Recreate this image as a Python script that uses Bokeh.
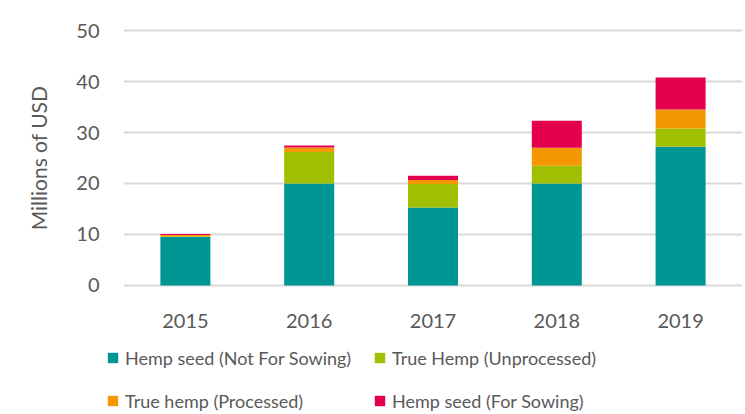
from bokeh.plotting import figure
from bokeh.layouts import column
from bokeh.models import ColumnDataSource, FactorRange, Range1d, FixedTicker, Legend, LegendItem
from bokeh.embed import file_html
from bokeh.resources import INLINE

years = ["2015", "2016", "2017", "2018", "2019"]
series = ["Hemp seed (Not For Sowing)", "True Hemp (Unprocessed)",
          "True hemp (Processed)", "Hemp seed (For Sowing)"]
not_for_sowing = [9.5, 20.0, 15.3, 20.0, 27.2]
true_unprocessed = [0.1, 6.2, 4.6, 3.5, 3.6]
true_processed = [0.3, 0.85, 0.8, 3.5, 3.7]
for_sowing = [0.2, 0.4, 0.8, 5.3, 6.3]
y_ticks = [0, 10, 20, 30, 40, 50]
colors = ["#009694", "#A0BF00", "#F39800", "#E4004F"]

keys = ["s0", "s1", "s2", "s3"]
source = ColumnDataSource(dict(year=years, s0=not_for_sowing, s1=true_unprocessed,
                               s2=true_processed, s3=for_sowing))

FONT = "Lato"
TXT = "#595959"

p = figure(x_range=FactorRange(*years, range_padding=0), y_range=Range1d(-0.4, 50.4),
           width=745, height=345, output_backend="svg", toolbar_location=None,
           min_border_left=123, min_border_right=3, min_border_top=28, min_border_bottom=58)
p.outline_line_color = None
p.background_fill_color = "white"
p.border_fill_color = "white"

renderers = p.vbar_stack(keys, x="year", width=0.404, color=colors, source=source, line_color=None)

p.ygrid.ticker = FixedTicker(ticks=y_ticks)
p.ygrid.grid_line_color = "#D9D9D9"
p.ygrid.grid_line_width = 2
p.xgrid.grid_line_color = None

p.yaxis.ticker = FixedTicker(ticks=y_ticks)
p.yaxis.axis_line_color = None
p.yaxis.major_tick_line_color = None
p.yaxis.minor_tick_line_color = None
p.yaxis.major_label_text_font = FONT
p.yaxis.major_label_text_font_size = "20px"
p.yaxis.major_label_text_color = TXT
p.yaxis.major_label_standoff = 18
p.yaxis.axis_label = "Millions of USD"
p.yaxis.axis_label_text_font = FONT
p.yaxis.axis_label_text_font_size = "21px"
p.yaxis.axis_label_text_font_style = "normal"
p.yaxis.axis_label_text_color = TXT
p.yaxis.axis_label_standoff = 22

p.xaxis.axis_line_color = None
p.xaxis.major_tick_line_color = None
p.xaxis.minor_tick_line_color = None
p.xaxis.major_label_text_font = FONT
p.xaxis.major_label_text_font_size = "20px"
p.xaxis.major_label_text_color = TXT
p.xaxis.major_label_standoff = 20

# legend strip underneath the chart
leg = figure(width=745, height=69, output_backend="svg", toolbar_location=None,
             x_range=Range1d(0, 1), y_range=Range1d(0, 1),
             min_border_left=0, min_border_right=0, min_border_top=0, min_border_bottom=0,
             x_axis_location=None, y_axis_location=None)
leg.outline_line_color = None
leg.xgrid.visible = False
leg.ygrid.visible = False
dummies = [leg.vbar(x=[-5], top=[-5], width=0.1, color=c, line_color=None) for c in colors]

# stop the legend strip's frame from being aligned with the chart's frame
if "frame_align" in leg.properties():
    leg.frame_align = False
    p.frame_align = False
    col_x = [106, 373]
else:
    col_x = [-17, 250]

common = dict(padding=0, margin=0, border_line_color=None, background_fill_alpha=0,
              glyph_width=13, glyph_height=13, spacing=20, label_height=23, label_standoff=6,
              label_text_font=FONT, label_text_font_size="18px", label_text_color=TXT)

for idx, cx in zip([(0, 2), (1, 3)], col_x):
    lg = Legend(items=[LegendItem(label=series[i], renderers=[dummies[i]]) for i in idx],
                location=(cx, 2), **common)
    leg.add_layout(lg, "center")

layout = column(p, leg, spacing=0)
open("out.html", "w").write(file_html(layout, INLINE))
